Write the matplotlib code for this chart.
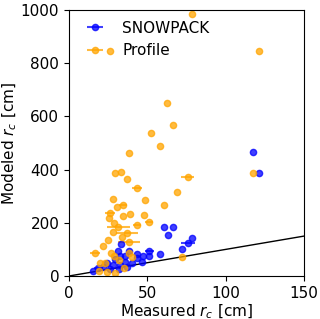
import matplotlib
matplotlib.use("Agg")
import matplotlib.pyplot as plt
import numpy as np

# SNOWPACK: measured rc, modeled rc, measured error
meas_sp = [117.2, 121.4, 78.7, 75.7, 71.9, 60.6, 66.6, 63.4, 58.0, 51.2, 51.2, 47.4,
           43.6, 43.2, 33.0, 31.5, 32.5, 29.3, 35.7, 32.5, 28.3, 24.0, 21.9, 18.7,
           15.5, 26.2, 32.0, 36.8, 40.0, 46.4, 38.0, 36.0]
mod_sp = [465, 387, 144, 125, 102, 185, 185, 153, 83, 95, 75, 75,
          83, 66, 119, 95, 75, 63, 54, 41, 41, 48, 35, 29,
          20, 25, 25, 35, 48, 54, 95, 75]
err_sp = [0, 0, 0, 4.5, 0, 0, 0, 0, 0, 3, 0, 0,
          0, 0, 0, 0, 0, 0, 0, 0, 0, 0, 0, 3,
          0, 0, 0, 0, 0, 0, 0, 0]

# Profile
meas_pr = [78.5, 26.2, 121.0, 62.7, 66.6, 52.1, 58.1, 38.3, 29.5, 33.4, 36.8, 43.4,
           75.7, 69.1, 28.3, 48.3, 60.4, 34.6, 30.8, 26.2, 38.9, 34.3, 25.7, 47.9,
           51.0, 28.9, 43.4, 31.5, 28.3, 36.8, 33.6, 24.7, 38.5, 21.9, 26.6, 16.6,
           28.7, 19.8, 23.0, 19.4, 24.4, 29.3, 117.2, 71.9, 32.0, 38.0, 40.0, 35.0]
mod_pr = [985, 846, 846, 649, 568, 537, 489, 461, 388, 391, 365, 332,
          372, 316, 290, 287, 267, 267, 258, 238, 233, 226, 218, 228,
          203, 200, 193, 183, 167, 163, 148, 135, 127, 113, 88, 85,
          75, 48, 50, 19, 16, 12, 387, 70, 60, 85, 70, 30]
err_pr = [0, 0, 0, 0, 0, 0, 0, 0, 0, 0, 0, 3,
          4.4, 0, 0, 0, 0, 2.5, 0, 3, 0, 0, 0, 0,
          2.5, 0, 2.5, 7.5, 0, 7, 0, 0, 7, 0, 0, 3,
          0, 0, 0, 0, 0, 0, 0, 0, 0, 0, 0, 0]

plt.rcParams['font.size'] = 11

fig = plt.figure(figsize=(3.2, 3.19), dpi=100)
ax = fig.add_subplot(111)
fig.subplots_adjust(left=0.2156, right=0.95, top=0.9687, bottom=0.1348)

ax.errorbar(meas_sp, mod_sp, xerr=err_sp, fmt='o', color='blue', alpha=0.75,
            markersize=4.5, elinewidth=1.5, label='SNOWPACK')
ax.errorbar(meas_pr, mod_pr, xerr=err_pr, fmt='o', color='orange', alpha=0.75,
            markersize=4.5, elinewidth=1.5, label='Profile')

xx = np.array([0, 150])
ax.plot(xx, xx, 'k-', lw=1)

ax.set_xlim(0, 150)
ax.set_ylim(0, 1000)
ax.set_xlabel('Measured $r_c$ [cm]', labelpad=1)
ax.set_ylabel('Modeled $r_c$ [cm]', labelpad=1)
ax.legend(loc='upper left', frameon=False, borderaxespad=0.3)

plt.savefig('out.png', dpi=100)
